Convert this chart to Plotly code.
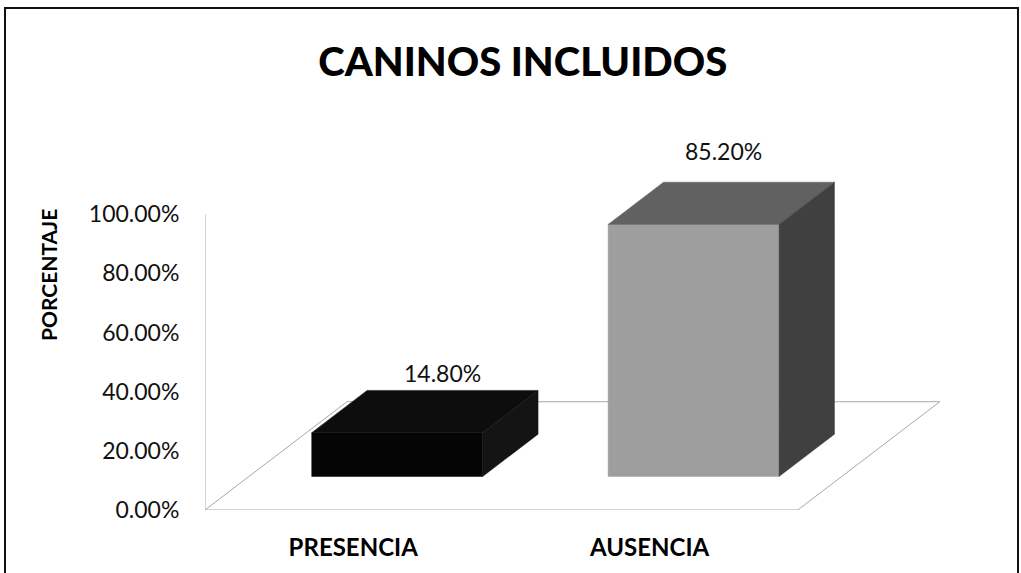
import plotly.graph_objects as go

# ---- data ----
categories = ["PRESENCIA", "AUSENCIA"]
values = [14.80, 85.20]
y_ticks = [0, 20, 40, 60, 80, 100]
y_tick_labels = ["%.2f%%" % t for t in y_ticks]
title_text = "CANINOS INCLUIDOS"
y_title = "PORCENTAJE"

# ---- style (pseudo-3D geometry) ----
W, H = 1021, 573
M_L, M_R, M_T, M_B = 205, 75, 155, 63
X_RANGE = [0, 2.5]
Y_RANGE = [0, 120]
DX, DY = 0.479, 36.6          # floor depth offset (x in category units, y in % units)
F_FRONT, F_BACK = 0.31, 0.70  # bar depth position (fraction of floor depth)
HALF_W = 0.2884               # half bar width (category units)
LABEL_YSHIFT = [1, 15]        # data-label lift above bar top (px)
LABEL_XSHIFT = [-10, -25]     # data-label horizontal nudge (px)
face_colors = [
    {"front": "#050505", "top": "#0d0d0d", "side": "#141414"},
    {"front": "#9e9e9e", "top": "#616161", "side": "#404040"},
]
FONT = "Lato"

plot_w = W - M_L - M_R
plot_h = H - M_T - M_B


def px_x(px):
    return (px - M_L) / plot_w


def px_y(py):
    return (H - M_B - py) / plot_h


fig = go.Figure()

# floor
n = len(categories)
fig.add_trace(go.Scatter(
    x=[0, n, n + DX, DX, 0], y=[0, 0, DY, DY, 0],
    mode="lines", fill="toself", fillcolor="white",
    line=dict(color="#a8a8a8", width=1), hoverinfo="skip", showlegend=False))

# vertical value axis line
fig.add_trace(go.Scatter(
    x=[0, 0], y=[0, y_ticks[-1]], mode="lines",
    line=dict(color="#a8a8a8", width=1), hoverinfo="skip", showlegend=False))

# bars
ddx = (F_BACK - F_FRONT) * DX
ddy = (F_BACK - F_FRONT) * DY
annotations = []
for i, (cat, v) in enumerate(zip(categories, values)):
    cx = i + 0.5
    x0 = cx - HALF_W + F_FRONT * DX
    x1 = cx + HALF_W + F_FRONT * DX
    y0 = F_FRONT * DY
    y1 = y0 + v
    c = face_colors[i]
    # front
    fig.add_trace(go.Scatter(
        x=[x0, x1, x1, x0, x0], y=[y0, y0, y1, y1, y0], mode="lines",
        fill="toself", fillcolor=c["front"], line=dict(color=c["front"], width=0.5),
        name=cat, showlegend=False))
    # top
    fig.add_trace(go.Scatter(
        x=[x0, x1, x1 + ddx, x0 + ddx, x0], y=[y1, y1, y1 + ddy, y1 + ddy, y1],
        mode="lines", fill="toself", fillcolor=c["top"],
        line=dict(color=c["top"], width=0.5), hoverinfo="skip", showlegend=False))
    # side
    fig.add_trace(go.Scatter(
        x=[x1, x1 + ddx, x1 + ddx, x1, x1], y=[y0, y0 + ddy, y1 + ddy, y1, y0],
        mode="lines", fill="toself", fillcolor=c["side"],
        line=dict(color=c["side"], width=0.5), hoverinfo="skip", showlegend=False))
    # data label
    annotations.append(dict(
        x=cx + F_BACK * DX, y=v + F_BACK * DY, xref="x", yref="y",
        text="%.2f%%" % v, showarrow=False, xanchor="center", yanchor="bottom",
        xshift=LABEL_XSHIFT[i], yshift=LABEL_YSHIFT[i],
        font=dict(family=FONT, size=23, color="#111")))

annotations.append(dict(
    text=y_title, textangle=-90, xref="paper", yref="paper",
    x=px_x(48), y=px_y(275), showarrow=False,
    xanchor="center", yanchor="middle",
    font=dict(family=FONT, size=21, weight=700, color="#000")))

fig.update_layout(
    width=W, height=H,
    margin=dict(l=M_L, r=M_R, t=M_T, b=M_B, autoexpand=False),
    paper_bgcolor="white", plot_bgcolor="rgba(0,0,0,0)",
    title=dict(text=title_text, x=0.512, xanchor="center",
               y=1 - 62 / H, yanchor="middle",
               font=dict(family=FONT, size=40, weight=900, color="#000")),
    xaxis=dict(range=X_RANGE, showgrid=False, zeroline=False, showline=False,
               automargin=False, fixedrange=True,
               tickvals=[i + 0.5 for i in range(n)], ticktext=categories,
               ticks="outside", ticklen=16, tickcolor="rgba(0,0,0,0)",
               tickfont=dict(family=FONT, size=24, weight=700, color="#000")),
    yaxis=dict(range=Y_RANGE, showgrid=False, zeroline=False, showline=False,
               automargin=False, fixedrange=True,
               tickvals=y_ticks, ticktext=y_tick_labels,
               ticks="outside", ticklen=20, tickcolor="rgba(0,0,0,0)",
               tickfont=dict(family=FONT, size=23, color="#111")),
    annotations=annotations,
    shapes=[dict(type="rect", xref="paper", yref="paper",
                 x0=px_x(5), x1=px_x(1018), y0=px_y(590), y1=px_y(8),
                 line=dict(color="#111", width=2), layer="above")],
)

fig.write_html(
    "out.html",
    config={"displayModeBar": False, "staticPlot": True},
    post_script="document.body.style.margin='0';document.body.style.overflow='hidden';",
)
